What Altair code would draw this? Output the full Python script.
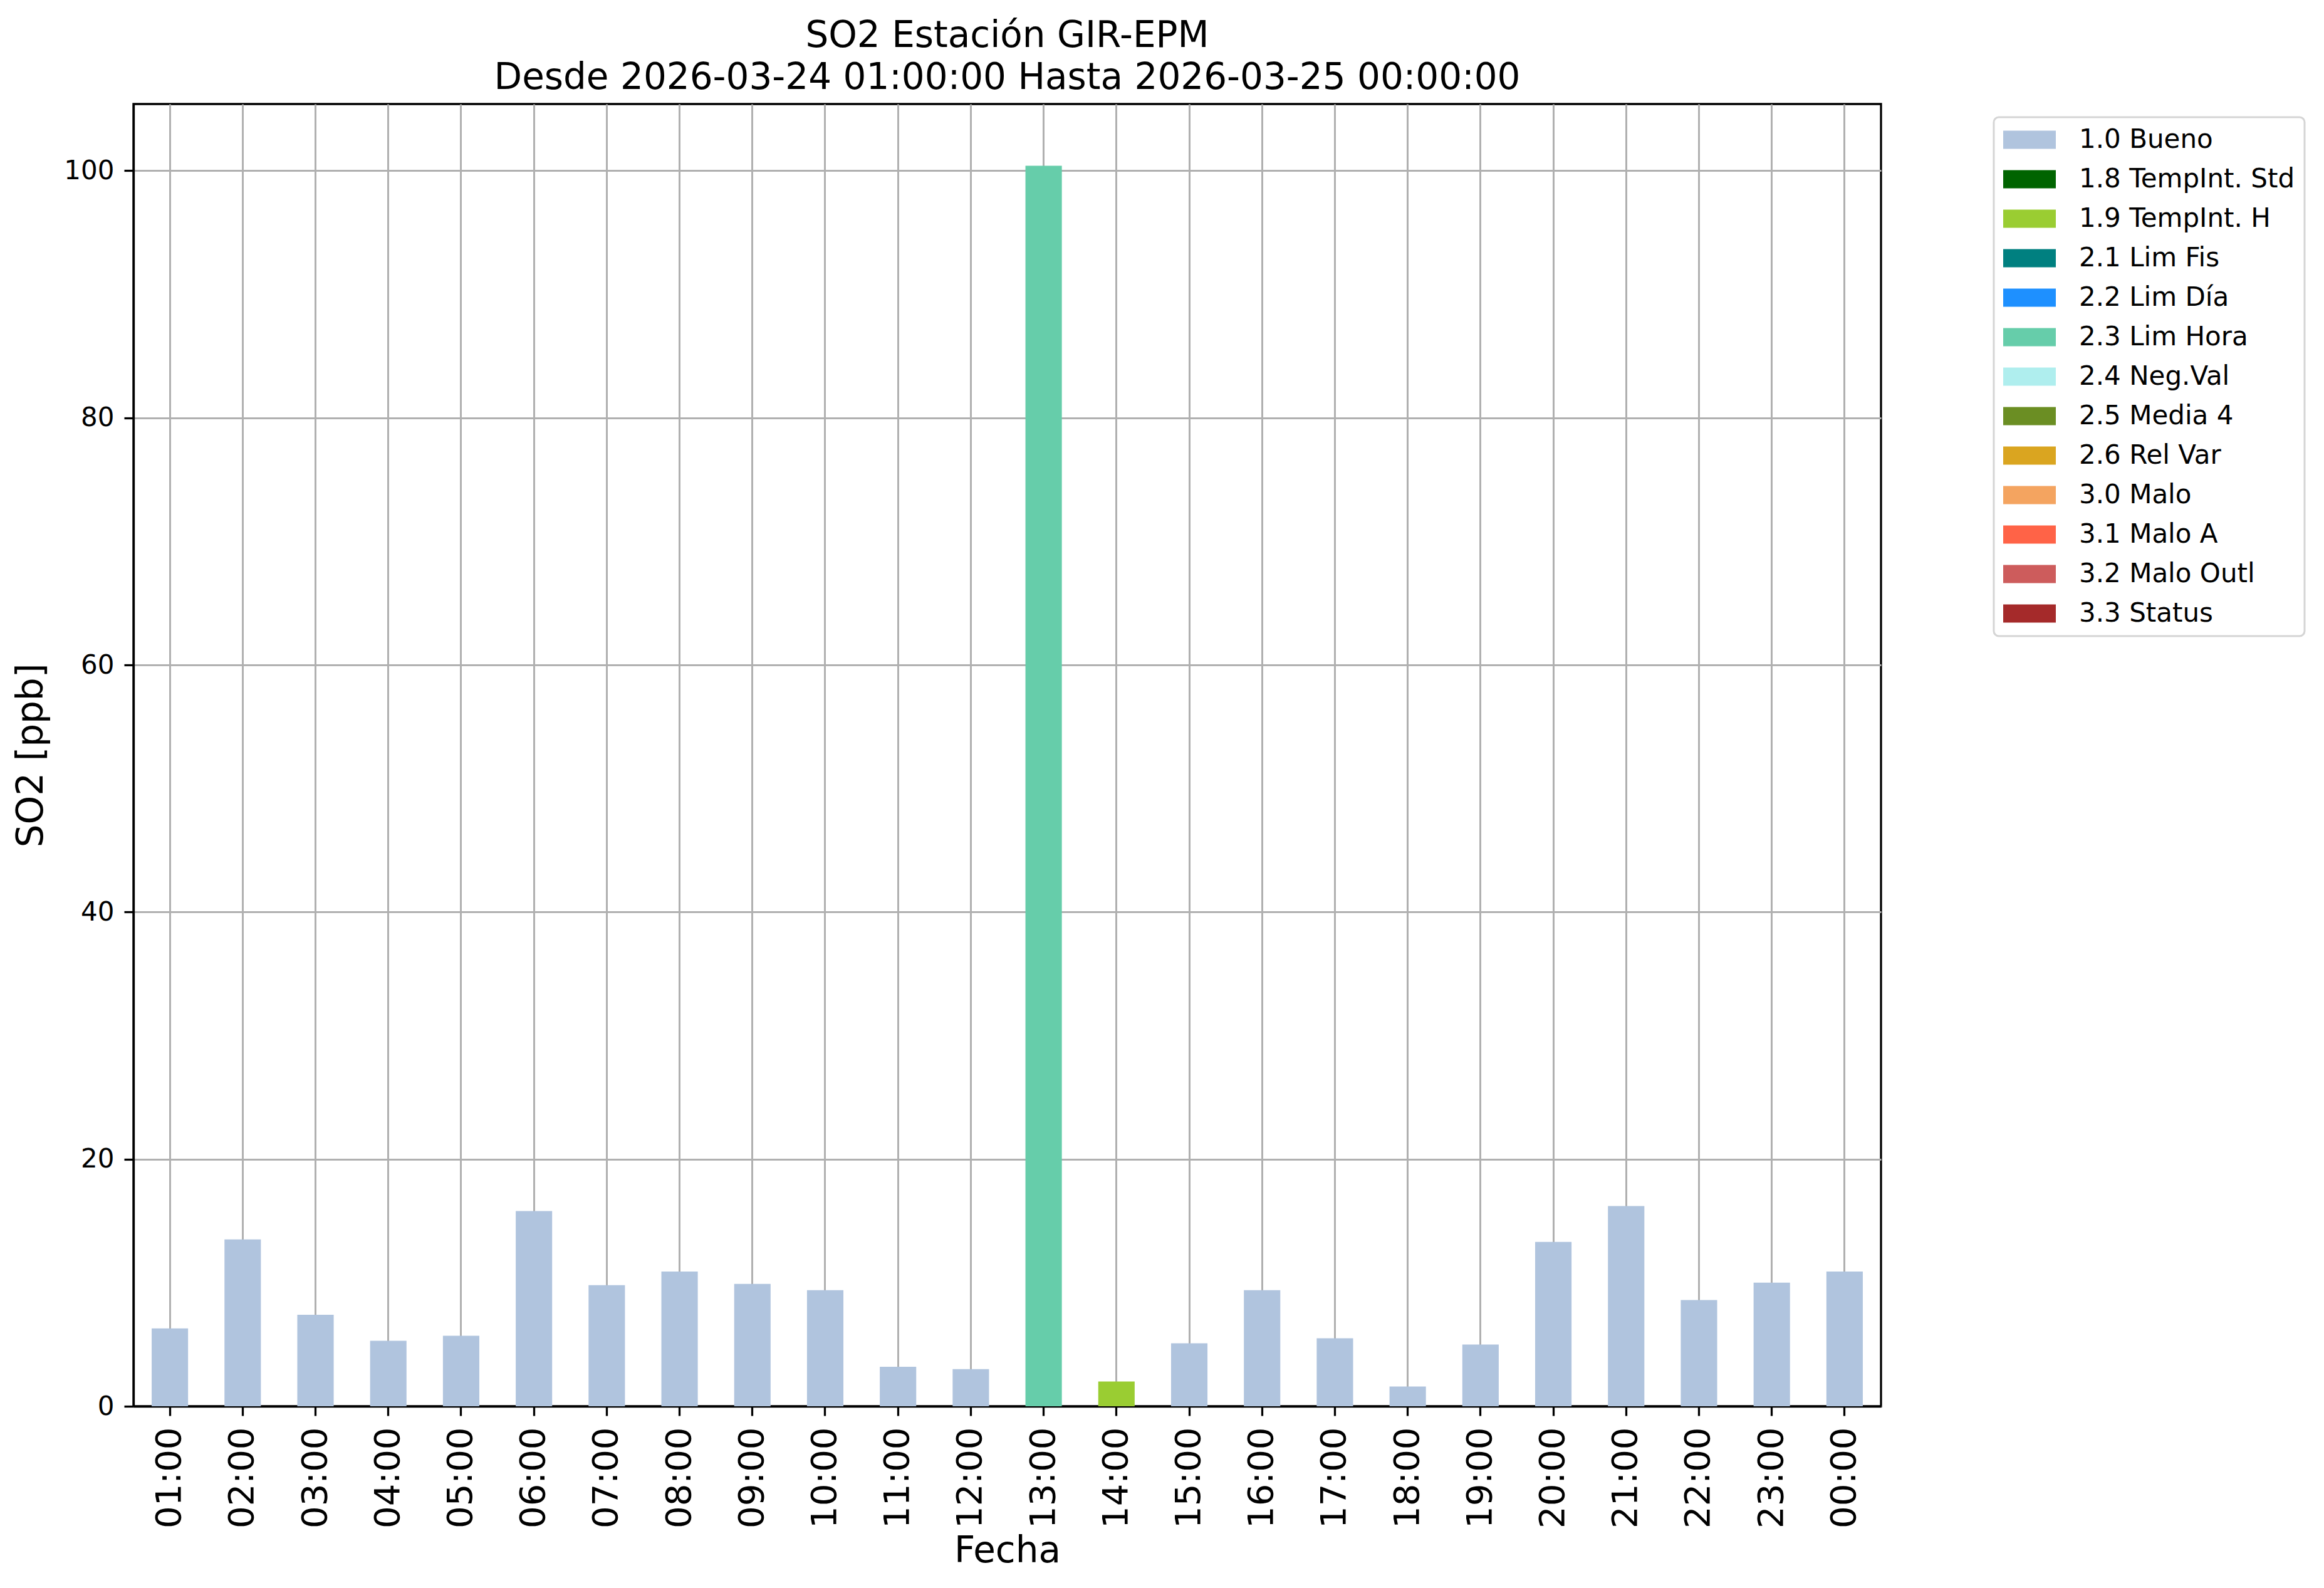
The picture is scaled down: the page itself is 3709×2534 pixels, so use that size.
import altair as alt
import pandas as pd

hours = ["01:00", "02:00", "03:00", "04:00", "05:00", "06:00", "07:00", "08:00",
         "09:00", "10:00", "11:00", "12:00", "13:00", "14:00", "15:00", "16:00",
         "17:00", "18:00", "19:00", "20:00", "21:00", "22:00", "23:00", "00:00"]
values = [6.3, 13.5, 7.4, 5.3, 5.7, 15.8, 9.8, 10.9, 9.9, 9.4, 3.2, 3.0,
          100.4, 2.0, 5.1, 9.4, 5.5, 1.6, 5.0, 13.3, 16.2, 8.6, 10.0, 10.9]
flags = ["1.0 Bueno"] * 12 + ["2.3 Lim Hora", "1.9 TempInt. H"] + ["1.0 Bueno"] * 10

flag_names = ["1.0 Bueno", "1.8 TempInt. Std", "1.9 TempInt. H", "2.1 Lim Fis",
              "2.2 Lim Día", "2.3 Lim Hora", "2.4 Neg.Val", "2.5 Media 4",
              "2.6 Rel Var", "3.0 Malo", "3.1 Malo A", "3.2 Malo Outl", "3.3 Status"]
flag_colors = ["#B0C4DE", "#006400", "#9ACD32", "#008080", "#1E90FF", "#66CDAA",
               "#AFEEEE", "#6B8E23", "#DAA520", "#F4A460", "#FF6347", "#CD5C5C",
               "#A52A2A"]
y_ticks = [0, 20, 40, 60, 80, 100]

df = pd.DataFrame({"Fecha": hours, "SO2": values, "Flag": flags})

FONT = "DejaVu Sans"

chart = alt.Chart(df).mark_bar().encode(
    x=alt.X("Fecha:N", sort=hours,
            scale=alt.Scale(paddingInner=0.5, paddingOuter=0.25),
            axis=alt.Axis(title="Fecha", labelAngle=270, labelAlign="right",
                          labelBaseline="middle", labelFontSize=56,
                          labelPadding=18, titleFontSize=58, titlePadding=8,
                          bandPosition=0.5, grid=True)),
    y=alt.Y("SO2:Q", scale=alt.Scale(domain=[0, 105.4], nice=False),
            axis=alt.Axis(title="SO2 [ppb]", values=y_ticks, labelFontSize=42,
                          labelPadding=16, titleFontSize=58, titlePadding=22,
                          grid=True)),
    color=alt.Color("Flag:N",
                    scale=alt.Scale(domain=flag_names, range=flag_colors),
                    legend=alt.Legend(
                        title=None, orient="none", legendX=2969, legendY=21,
                        symbolType="M-1,-0.69 H3 V0.69 H-1 Z",
                        symbolSize=1764, symbolStrokeWidth=0,
                        labelFontSize=42, labelOffset=79, rowPadding=21,
                        padding=15, strokeColor="#d5d5d5", fillColor="white",
                        cornerRadius=8, labelColor="black", labelLimit=1000,
                        labelFont=FONT,
                    )),
).properties(
    width=2789, height=2078,
    background="white",
    title=alt.TitleParams(
        text=["SO2 Estación GIR-EPM",
              "Desde 2026-03-24 01:00:00 Hasta 2026-03-25 00:00:00"],
        fontSize=58, font=FONT, fontWeight="normal", anchor="middle",
        lineHeight=67, offset=12, color="black"),
    autosize=alt.AutoSizeParams(type="none"),
    padding={"left": 205, "top": 158, "right": 690, "bottom": 270},
).configure_view(
    stroke="black", strokeWidth=3.3
).configure_axis(
    labelFont=FONT, titleFont=FONT, labelColor="black", titleColor="black",
    titleFontWeight="normal", domainColor="black", domainWidth=3.3,
    tickColor="black", tickWidth=3.3, tickSize=15,
    gridColor="#b0b0b0", gridWidth=3, gridOpacity=1, zindex=1,
).configure_legend(
    labelFont=FONT, strokeWidth=3,
)

chart.save("out.html", embed_options={"renderer": "svg", "actions": False})
